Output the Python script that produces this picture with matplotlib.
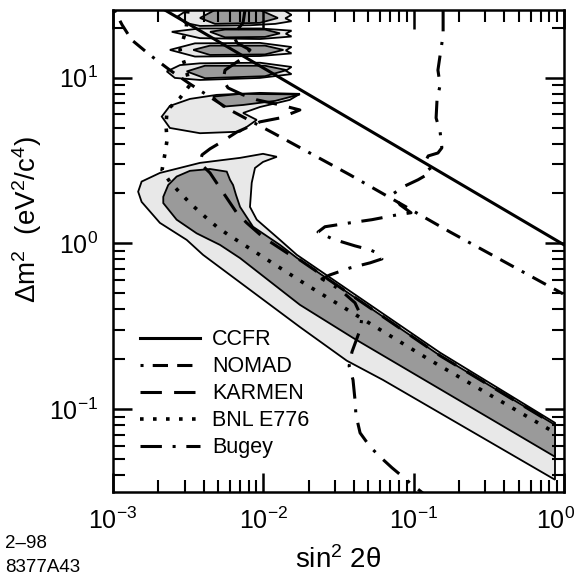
import matplotlib

matplotlib.use("Agg")

import matplotlib.pyplot as plt
from matplotlib.patches import Polygon
from matplotlib.lines import Line2D
from matplotlib.ticker import LogLocator, NullFormatter
from matplotlib.transforms import ScaledTranslation


# ---- data (sin^2 2theta, delta m^2 in eV^2/c^4) ----
CCFR_S = [0.002, 1.0]
CCFR_DM = [27.0, 0.98]

NOMAD_S = [1.02e-3, 1.15e-3, 1.33e-3, 1.76e-3, 2.39e-3, 3.25e-3, 6.0e-3, 0.0116, 0.0377, 0.175, 0.985]
NOMAD_DM = [25.6, 20.8, 16.9, 13.7, 11.1, 9.16, 6.38, 4.64, 2.59, 1.17, 0.496]

KARMEN_S = [7.55e-3, 7.33e-3, 6.29e-3, 6.68e-3, 8.15e-3, 7.0e-3, 5.56e-3, 5.40e-3, 5.82e-3,
            7.33e-3, 9.08e-3, 0.0129, 0.0175, 0.0129, 9.50e-3, 6.68e-3, 5.15e-3, 4.42e-3,
            3.91e-3, 3.79e-3, 4.09e-3, 4.42e-3, 5.15e-3, 6.65e-3, 7.75e-3, 9.95e-3, 0.0144,
            0.0167, 0.150, 0.871]
KARMEN_DM = [25.6, 21.4, 18.1, 16.2, 14.7, 12.8, 11.1, 9.68, 8.67,
             7.87, 7.34, 6.85, 6.38, 5.71, 5.41, 4.70, 4.04, 3.72,
             3.42, 3.06, 2.85, 2.66, 2.16, 1.53, 1.33, 1.09, 0.875,
             0.818, 0.210, 0.0804]

BNL_S = [3.15e-3, 3.06e-3, 2.79e-3, 3.01e-3, 3.25e-3, 2.79e-3, 2.29e-3, 2.25e-3, 2.29e-3,
         2.22e-3, 2.12e-3, 2.39e-3, 2.79e-3, 3.34e-3, 4.09e-3, 4.90e-3, 5.82e-3, 0.0194,
         0.128, 0.807]
BNL_DM = [25.6, 19.4, 14.7, 11.9, 9.03, 7.54, 6.38, 5.18, 4.21,
          3.51, 2.77, 2.35, 2.02, 1.71, 1.45, 1.26, 1.13, 0.562,
          0.198, 0.075]

BUGEY_S = [0.157, 0.157, 0.150, 0.145, 0.150, 0.143, 0.141, 0.150, 0.154, 0.145, 0.125,
           0.119, 0.132, 0.107, 0.0875, 0.0729, 0.0811, 0.0960, 0.0787, 0.0528, 0.0377,
           0.0257, 0.0231, 0.0291, 0.0407, 0.0513, 0.0588, 0.0615, 0.0513, 0.0377, 0.0277,
           0.0245, 0.0324, 0.0407, 0.0453, 0.0440, 0.0389, 0.0372, 0.0395, 0.0407, 0.0413,
           0.0440, 0.0513, 0.0597, 0.0717, 0.0946, 0.119]
BUGEY_DM = [25.6, 18.1, 13.7, 11.1, 9.03, 7.34, 5.71, 4.70, 3.77, 3.51, 3.37,
            3.10, 2.70, 2.42, 2.22, 1.99, 1.71, 1.53, 1.49, 1.39, 1.33,
            1.26, 1.17, 1.06, 0.966, 0.914, 0.865, 0.806, 0.763, 0.711, 0.645,
            0.610, 0.525, 0.438, 0.356, 0.301, 0.222, 0.182, 0.150, 0.114, 0.0924,
            0.0719, 0.0593, 0.0516, 0.0443, 0.0359, 0.0304]

# LSND allowed regions: main band (light = outer, dark = inner)
BAND_LIGHT_S = [1.55e-3, 2.05e-3, 3.79e-3, 7.0e-3, 9.95e-3, 0.0123, 9.95e-3, 8.8e-3, 8.37e-3,
                8.15e-3, 9.04e-3, 0.0129, 0.0167, 0.150, 0.871, 0.871, 0.0625, 0.0359,
                0.0175, 3.97e-3, 3.09e-3, 2.05e-3, 1.55e-3, 1.47e-3]
BAND_LIGHT_DM = [2.36, 2.66, 3.06, 3.28, 3.47, 3.33, 3.10, 2.85, 2.32,
                 1.66, 1.39, 1.05, 0.853, 0.219, 0.0827, 0.0375, 0.150, 0.196,
                 0.313, 0.853, 1.05, 1.33, 1.78, 2.05]
BAND_DARK_S = [2.16e-3, 2.33e-3, 2.65e-3, 3.25e-3, 4.42e-3, 5.71e-3, 6.0e-3, 6.29e-3, 6.58e-3,
               7.0e-3, 8.54e-3, 0.0129, 0.0167, 0.150, 0.871, 0.871, 0.0395, 0.0175,
               7.0e-3, 5.15e-3, 3.60e-3, 2.65e-3, 2.16e-3]
BAND_DARK_DM = [1.91, 2.25, 2.53, 2.74, 2.81, 2.71, 2.42, 2.25, 1.96,
                1.66, 1.26, 0.979, 0.818, 0.210, 0.0804, 0.0516, 0.269, 0.426,
                0.815, 0.979, 1.15, 1.39, 1.75]

# high delta m^2 islands
ISL1_LIGHT_S = [2.71e-3, 3.51e-3, 0.0120, 0.0154, 0.0140, 0.0154, 0.0120, 8.15e-3, 3.79e-3, 3.01e-3]
ISL1_LIGHT_DM = [23.5, 27.4, 27.4, 23.9, 22.8, 21.9, 21.1, 20.7, 20.5, 21.4]
ISL1_DARK_S = [3.79e-3, 4.77e-3, 9.50e-3, 0.0125, 9.50e-3, 4.77e-3]
ISL1_DARK_DM = [22.9, 25.6, 25.6, 22.9, 21.4, 21.1]

ISL2_LIGHT_S = [2.46e-3, 3.79e-3, 9.50e-3, 0.0154, 0.0141, 0.0154, 9.50e-3, 3.79e-3]
ISL2_LIGHT_DM = [18.9, 19.8, 19.8, 19.2, 18.4, 17.7, 17.1, 17.3]
ISL2_DARK_S = [4.42e-3, 5.56e-3, 0.01026, 0.0129, 0.01026, 5.56e-3]
ISL2_DARK_DM = [18.9, 19.5, 19.5, 18.5, 17.6, 17.5]

ISL3_LIGHT_S = [2.39e-3, 3.51e-3, 9.50e-3, 0.0154, 0.0141, 0.0154, 9.50e-3, 3.51e-3]
ISL3_LIGHT_DM = [14.7, 16.1, 16.2, 15.3, 14.6, 14.0, 13.5, 13.4]
ISL3_DARK_S = [3.42e-3, 4.42e-3, 0.01026, 0.0136, 0.01026, 4.42e-3]
ISL3_DARK_DM = [14.7, 15.6, 15.6, 14.7, 13.8, 13.7]

ISL4_LIGHT_S = [2.28e-3, 2.79e-3, 3.79e-3, 9.50e-3, 0.0154, 0.0141, 0.0154, 9.50e-3, 3.79e-3, 2.58e-3]
ISL4_LIGHT_DM = [10.9, 11.9, 12.2, 12.3, 11.6, 11.0, 10.5, 9.96, 9.68, 9.96]
ISL4_DARK_S = [3.09e-3, 4.09e-3, 0.01026, 0.0143, 0.01026, 4.09e-3]
ISL4_DARK_DM = [10.9, 11.8, 11.8, 11.1, 10.2, 9.92]

ISL5_LIGHT_S = [2.11e-3, 2.39e-3, 3.25e-3, 4.90e-3, 9.50e-3, 0.0175, 0.0150, 9.50e-3, 7.33e-3,
                9.04e-3, 7.0e-3, 3.79e-3, 2.39e-3]
ISL5_LIGHT_DM = [5.82, 6.75, 7.44, 7.87, 8.09, 7.98, 7.34, 6.65, 6.12,
                 5.56, 4.72, 4.62, 4.97]
ISL5_DARK_S = [4.63e-3, 7.0e-3, 0.0175, 0.0120, 7.33e-3, 5.40e-3]
ISL5_DARK_DM = [7.68, 7.98, 7.92, 7.24, 6.84, 6.68]

LIGHT = "#e8e8e8"
DARK = "#9a9a9a"


def add_region(ax, s, dm, color):
    poly = Polygon(list(zip(s, dm)), closed=True, facecolor=color,
                   edgecolor="black", linewidth=1.3, zorder=1)
    ax.add_patch(poly)


def main():
    plt.rcParams["font.family"] = ["Liberation Sans", "DejaVu Sans"]
    plt.rcParams["mathtext.fontset"] = "custom"
    plt.rcParams["mathtext.rm"] = "Liberation Sans"
    plt.rcParams["mathtext.it"] = "Liberation Sans:italic"
    plt.rcParams["mathtext.default"] = "regular"

    fig = plt.figure(figsize=(5.8, 5.79), dpi=100, facecolor="white")
    ax = fig.add_axes([113 / 580, 1 - 492 / 579, 451 / 580, 482 / 579])
    ax.set_xscale("log")
    ax.set_yscale("log")
    ax.set_xlim(1e-3, 1.0)
    ax.set_ylim(10 ** -1.5, 10 ** 1.408)

    add_region(ax, BAND_LIGHT_S, BAND_LIGHT_DM, LIGHT)
    add_region(ax, BAND_DARK_S, BAND_DARK_DM, DARK)
    islands = [
        (ISL1_LIGHT_S, ISL1_LIGHT_DM, ISL1_DARK_S, ISL1_DARK_DM),
        (ISL2_LIGHT_S, ISL2_LIGHT_DM, ISL2_DARK_S, ISL2_DARK_DM),
        (ISL3_LIGHT_S, ISL3_LIGHT_DM, ISL3_DARK_S, ISL3_DARK_DM),
        (ISL4_LIGHT_S, ISL4_LIGHT_DM, ISL4_DARK_S, ISL4_DARK_DM),
        (ISL5_LIGHT_S, ISL5_LIGHT_DM, ISL5_DARK_S, ISL5_DARK_DM),
    ]
    for ls_, ld_, ds_, dd_ in islands:
        add_region(ax, ls_, ld_, LIGHT)
        add_region(ax, ds_, dd_, DARK)

    styles = {
        "CCFR": dict(ls="-", lw=2.2),
        "NOMAD": dict(ls=(0, (1.0, 3.0, 5.0, 3.0, 5.0, 3.0)), lw=2.2),
        "KARMEN": dict(ls=(0, (7.0, 4.0)), lw=2.2),
        "BNL E776": dict(ls=(0, (1.0, 2.6)), lw=2.6),
        "Bugey": dict(ls=(0, (7.0, 3.5, 1.0, 3.5)), lw=2.2),
    }
    curves = [
        ("CCFR", CCFR_S, CCFR_DM),
        ("NOMAD", NOMAD_S, NOMAD_DM),
        ("KARMEN", KARMEN_S, KARMEN_DM),
        ("BNL E776", BNL_S, BNL_DM),
        ("Bugey", BUGEY_S, BUGEY_DM),
    ]
    for name, s, dm in curves:
        st = styles[name]
        ax.plot(s, dm, color="black", linestyle=st["ls"], linewidth=st["lw"], zorder=3)

    handles = [Line2D([], [], color="black", linestyle=styles[n]["ls"], linewidth=styles[n]["lw"])
               for n, _, _ in curves]
    ax.legend(handles, [n for n, _, _ in curves], loc="upper left",
              bbox_to_anchor=(0.06, 0.338), frameon=False, fontsize=15.5,
              handlelength=2.8, handletextpad=0.55, labelspacing=0.28,
              borderpad=0, borderaxespad=0)

    ax.xaxis.set_major_locator(LogLocator(base=10, numticks=10))
    ax.yaxis.set_major_locator(LogLocator(base=10, numticks=10))
    ax.xaxis.set_minor_locator(LogLocator(base=10, subs=range(2, 10), numticks=20))
    ax.yaxis.set_minor_locator(LogLocator(base=10, subs=range(2, 10), numticks=20))
    ax.xaxis.set_minor_formatter(NullFormatter())
    ax.yaxis.set_minor_formatter(NullFormatter())

    ax.tick_params(which="both", direction="in", top=True, right=True, labelsize=18)
    ax.tick_params(which="major", length=14, width=1.8, pad=11)
    ax.tick_params(which="minor", length=8.5, width=1.5)
    for sp in ax.spines.values():
        sp.set_linewidth(1.8)

    ax.set_xlabel("sin$^2$ 2θ", fontsize=20)
    ax.xaxis.set_label_coords(0.5, -0.113)
    ax.set_ylabel("Δm$^2$  (eV$^2$/c$^4$)", fontsize=20)
    ax.yaxis.set_label_coords(-0.153, 0.565)

    fig.text(5 / 580, 1 - 543 / 579, "2–98", fontsize=13.5, va="center", ha="left")
    fig.text(5 / 580, 1 - 568 / 579, "8377A43", fontsize=13.5, va="center", ha="left")

    # pull the last x tick label ("10^0") a little inward, as in the original
    fig.canvas.draw()
    shift = ScaledTranslation(-0.08, 0, fig.dpi_scale_trans)
    for tick in ax.xaxis.get_major_ticks():
        if abs(tick.get_loc() - 1.0) < 1e-9:
            tick.label1.set_transform(tick.label1.get_transform() + shift)

    fig.savefig("out.png", dpi=100, facecolor="white")


if __name__ == "__main__":
    main()
